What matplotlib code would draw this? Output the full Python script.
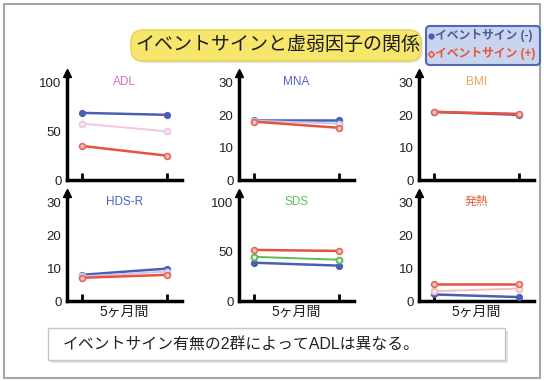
import matplotlib
matplotlib.use("Agg")
import matplotlib.pyplot as plt
from matplotlib.patches import FancyBboxPatch, Rectangle

W, H, DPI = 544, 381, 100

# 観察期間 (開始時 / 5ヶ月後)
periods = [0, 1]

titles = ["ADL", "MNA", "BMI", "HDS-R", "SDS", "発熱"]
title_colors = ["#d46cc4", "#5a62c0", "#f2a456", "#4a62c2", "#5cc05c", "#e85a44"]
y_tick_labels = [[0, 50, 100], [0, 10, 20, 30], [0, 10, 20, 30],
                 [0, 10, 20, 30], [0, 50, 100], [0, 10, 20, 30]]
y_limits = [110, 33, 33, 33, 110, 33]

# イベントサイン(-) 群
sign_neg = [[69, 67], [18.6, 18.6], [21.0, 20.1], [8.0, 9.9], [39, 36], [2.0, 1.2]]
# イベントサイン(+) 群
sign_pos = [[35, 25], [18.0, 16.1], [21.0, 20.4], [7.1, 8.0], [52, 51], [5.3, 5.3]]
# 全体
overall = [[58, 50], [18.3, 17.4], None, [7.5, 9.0], [45, 42], [3.0, 3.8]]
overall_colors = ["#f2c6e4", "#c4c4ee", None, "#cfc6ea", "#5cbc5c", "#f4bcbc"]

xlabel = "5ヶ月間"
main_title = "イベントサインと虚弱因子の関係"
legend_labels = ["イベントサイン (-)", "イベントサイン (+)"]
conclusion = "イベントサイン有無の2群によってADLは異なる。"

BLUE = "#4a5fb2"
RED = "#e8533c"
FONTS = ["Liberation Sans", "Noto Sans CJK JP", "DejaVu Sans"]
plt.rcParams["font.family"] = FONTS

fig = plt.figure(figsize=(W / DPI, H / DPI), dpi=DPI)
fig.patch.set_facecolor("white")

# pixel-space overlay for the slide decorations
bg = fig.add_axes([0, 0, 1, 1], zorder=-5)
bg.set_xlim(0, W)
bg.set_ylim(H, 0)
bg.axis("off")

bg.add_patch(Rectangle((4, 4), 536, 374, fill=False, ec="#a6a6a6", lw=1.5))

# title banner with soft shadow
bg.add_patch(FancyBboxPatch((133, 32), 290, 31, boxstyle="round,pad=0,rounding_size=12",
                            fc="#d8d8d0", ec="none", alpha=0.6))
bg.add_patch(FancyBboxPatch((131, 30), 290, 31, boxstyle="round,pad=0,rounding_size=12",
                            fc="#f6e66c", ec="#e6cf52", lw=1))
bg.text(278, 45.5, main_title, fontsize=13.7, color="#1e1e1e", ha="center", va="center",
        family=["Noto Sans CJK JP", "DejaVu Sans"])

# legend box
bg.add_patch(FancyBboxPatch((426, 26), 114, 39, boxstyle="round,pad=0,rounding_size=4",
                            fc="#c9d5ee", ec="#5068b6", lw=1.5))
bg.plot(431, 36, marker="o", ms=3.5, color=BLUE, ls="none")
bg.plot(431, 54, marker="D", ms=3.2, mfc="#f6c2b8", mec=RED, mew=1, ls="none")
bg.text(435, 36, legend_labels[0], fontsize=8.5, color="#4d5a96", ha="left", va="center",
        fontweight="bold")
bg.text(435, 54, legend_labels[1], fontsize=8.5, color=RED, ha="left", va="center",
        fontweight="bold")

# conclusion box with shadow
bg.add_patch(Rectangle((51, 331), 457, 32, fc="#d4d4d8", ec="none", alpha=0.7))
bg.add_patch(Rectangle((48, 328), 457, 32, fc="white", ec="#c4c4cc", lw=1))
bg.text(63, 345, conclusion, fontsize=11.4, color="#222222", ha="left", va="center")

# panel geometry in pixels: (left, top, right, bottom)
col_x = [(67, 182), (239, 354), (419, 534)]
row_y = [(73, 180), (193, 301)]


def px_axes(x0, y0, x1, y1):
    return fig.add_axes([x0 / W, 1 - y1 / H, (x1 - x0) / W, (y1 - y0) / H])


for i, name in enumerate(titles):
    r, c = divmod(i, 3)
    x0, x1 = col_x[c]
    y0, y1 = row_y[r]
    ax = px_axes(x0, y0, x1, y1)
    ax.patch.set_alpha(0)
    ax.set_xlim(-0.176, 1.176)
    ax.set_ylim(0, y_limits[i])
    for s in ("top", "right"):
        ax.spines[s].set_visible(False)
    for s in ("left", "bottom"):
        ax.spines[s].set_linewidth(2.5)
        ax.spines[s].set_color("black")
    ax.plot(0, 1, marker="^", ms=6, color="black", transform=ax.transAxes, clip_on=False)

    ax.set_xticks(periods)
    ax.set_xticklabels([])
    ax.tick_params(axis="x", direction="in", length=5, width=2, color="black")
    ax.set_yticks(y_tick_labels[i])
    ax.set_yticklabels([str(v) for v in y_tick_labels[i]], fontsize=9.5, color="#222222")
    ax.tick_params(axis="y", length=0, pad=4)

    ax.plot(periods, sign_neg[i], color=BLUE, lw=1.8, marker="o", ms=4.2,
            mfc=BLUE, mec=BLUE, clip_on=False, zorder=3)
    if overall[i] is not None:
        ax.plot(periods, overall[i], color=overall_colors[i], lw=1.4, marker="o", ms=4.2,
                mfc="#f4eef4", mec=overall_colors[i], mew=1.4, clip_on=False, zorder=3)
    ax.plot(periods, sign_pos[i], color=RED, lw=1.8, marker="o", ms=4.2,
            mfc="#f6c2b8", mec="#e06a5c", mew=1.2, clip_on=False, zorder=4)

    ax.text(0.5, 1.0 - 9 / (y1 - y0), name, transform=ax.transAxes, ha="center",
            va="center", fontsize=8.5, color=title_colors[i])

    if r == 1:
        fig.text((x0 + x1) / 2 / W, 1 - 312 / H, xlabel, ha="center", va="center",
                 fontsize=10, color="#1e1e1e")

fig.savefig("out.png", dpi=DPI, facecolor="white")
